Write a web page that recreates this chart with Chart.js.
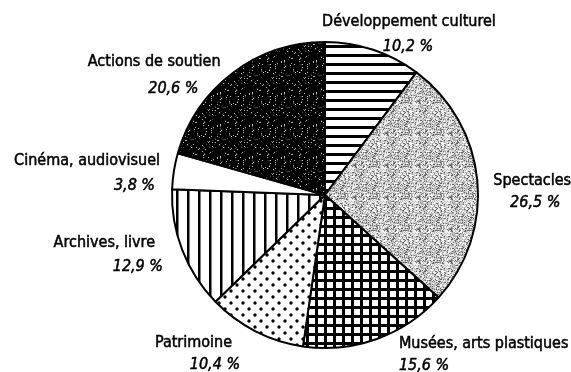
<!DOCTYPE html>
<html lang="fr">
<head>
<meta charset="utf-8">
<title>Répartition des crédits culturels</title>
<script src="https://cdn.jsdelivr.net/npm/chart.js@4.4.1/dist/chart.umd.min.js"></script>
<style>
  html, body { margin: 0; padding: 0; background: #fff; }
  #wrap { width: 571px; height: 372px; position: relative; }
</style>
</head>
<body>
<div id="wrap"><canvas id="pie"></canvas></div>
<script>
// Slices, clockwise from 12 o'clock
const categories = ['Développement culturel', 'Spectacles', 'Musées, arts plastiques', 'Patrimoine', 'Archives, livre', 'Cinéma, audiovisuel', 'Actions de soutien'];
const shares = [10.2, 26.5, 15.6, 10.4, 12.9, 3.8, 20.6];

// label placement relative to the point just outside each slice's middle
const labelLayout = [
  { align: 'center', dx: 32,  dy: -12, pdx: -1,  pdy: 25 },
  { align: 'center', dx: 43,  dy: 6,   pdx: 3,   pdy: 22 },
  { align: 'left',   dx: 18,  dy: -2,  pdx: 0,   pdy: 22 },
  { align: 'right',  dx: -18, dy: 5,   pdx: 8,   pdy: 22 },
  { align: 'right',  dx: -16, dy: -7,  pdx: 8,   pdy: 24 },
  { align: 'right',  dx: -2,  dy: -4,  pdx: -5,  pdy: 25 },
  { align: 'right',  dx: -5,  dy: 3,   pdx: -22, pdy: 27 },
];

const FONT = "'Liberation Sans Narrow', 'Arial Narrow', 'DejaVu Sans Condensed', sans-serif";

// --- fill patterns -------------------------------------------------------
function tile(w, h, draw) {
  const c = document.createElement('canvas');
  c.width = w; c.height = h;
  const g = c.getContext('2d');
  draw(g, w, h);
  return g.createPattern(c, 'repeat');
}

// cheap deterministic grain
function grain(x, y) {
  let n = (x * 374761393 + y * 668265263) | 0;
  n = (n ^ (n >>> 13)) * 1274126177 | 0;
  return ((n ^ (n >>> 16)) >>> 0) / 4294967295;
}

function speckle(w, h, levels) {
  return tile(w, h, (g) => {
    const img = g.createImageData(w, h);
    for (let y = 0; y < h; y++) {
      for (let x = 0; x < w; x++) {
        const r = grain(x, y);
        let v = levels[levels.length - 1][1];
        for (const [t, lv] of levels) { if (r < t) { v = lv; break; } }
        const i = (y * w + x) * 4;
        img.data[i] = img.data[i + 1] = img.data[i + 2] = v;
        img.data[i + 3] = 255;
      }
    }
    g.putImageData(img, 0, 0);
  });
}

const hStripes = tile(9, 9, (g, w, h) => {
  g.fillStyle = '#fff'; g.fillRect(0, 0, w, h);
  g.fillStyle = '#000'; g.fillRect(0, 0, w, 3);
});
const vStripes = tile(11, 11, (g, w, h) => {
  g.fillStyle = '#fff'; g.fillRect(0, 0, w, h);
  g.fillStyle = '#000'; g.fillRect(0, 0, 2.5, h);
});
const grid = tile(9, 9, (g, w, h) => {
  g.fillStyle = '#fff'; g.fillRect(0, 0, w, h);
  g.fillStyle = '#000'; g.fillRect(0, 0, w, 3); g.fillRect(0, 0, 3, h);
});
const dots = tile(12, 12, (g, w, h) => {
  g.fillStyle = '#fff'; g.fillRect(0, 0, w, h);
  g.fillStyle = '#000';
  g.beginPath(); g.arc(3, 3, 1.7, 0, Math.PI * 2); g.fill();
  g.beginPath(); g.arc(9, 9, 1.7, 0, Math.PI * 2); g.fill();
});
const lightGrain = speckle(32, 32, [[0.18, 100], [0.45, 180], [0.75, 220], [1, 252]]);
const darkGrain = speckle(32, 32, [[0.9, 0], [0.96, 70], [1, 190]]);

const fills = [hStripes, lightGrain, grid, dots, vStripes, '#fff', darkGrain];

// --- outside labels ------------------------------------------------------
const fmtPct = v => v.toFixed(1).replace('.', ',') + ' %';

function inkText(ctx, text, x, y) {
  ctx.fillText(text, x, y);
  ctx.strokeText(text, x, y);
}

const outsideLabels = {
  id: 'outsideLabels',
  afterDatasetsDraw(chart) {
    const ctx = chart.ctx;
    const arcs = chart.getDatasetMeta(0).data;
    ctx.save();
    ctx.fillStyle = '#000';
    ctx.strokeStyle = '#000';
    ctx.lineWidth = 0.5;
    ctx.textBaseline = 'alphabetic';
    arcs.forEach((arc, i) => {
      const { x, y, startAngle, endAngle, outerRadius } = arc.getProps(['x', 'y', 'startAngle', 'endAngle', 'outerRadius'], true);
      const mid = (startAngle + endAngle) / 2;
      const ax = x + Math.cos(mid) * (outerRadius + 12);
      const ay = y + Math.sin(mid) * (outerRadius + 12);
      const L = labelLayout[i];
      ctx.textAlign = L.align;
      ctx.font = '16px ' + FONT;
      inkText(ctx, categories[i], ax + L.dx, ay + L.dy);
      ctx.font = 'italic 16px ' + FONT;
      inkText(ctx, fmtPct(shares[i]), ax + L.dx + L.pdx, ay + L.dy + L.pdy);
    });
    ctx.restore();
  }
};

new Chart(document.getElementById('pie'), {
  type: 'pie',
  data: {
    labels: categories,
    datasets: [{
      data: shares,
      backgroundColor: fills,
      borderColor: '#000',
      borderWidth: 2,
      hoverBorderWidth: 2,
    }],
  },
  options: {
    responsive: true, maintainAspectRatio: false,
    animation: false,
    events: [],
    layout: { padding: { top: 41, bottom: 23, left: 100, right: 21 } },
    plugins: {
      legend: { display: false },
      tooltip: { enabled: false },
    },
  },
  plugins: [outsideLabels],
});
</script>
</body>
</html>
